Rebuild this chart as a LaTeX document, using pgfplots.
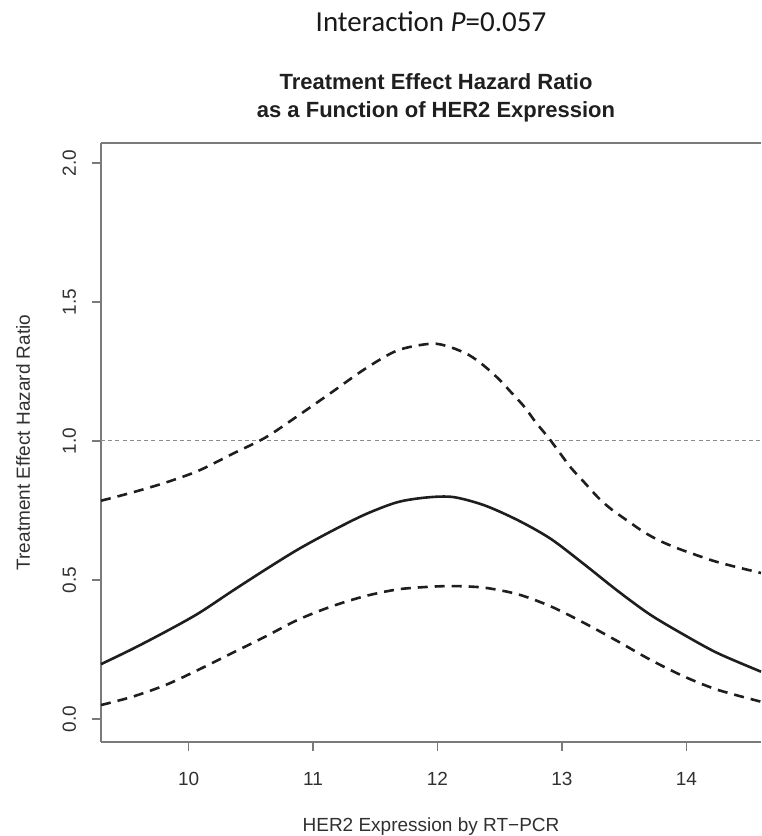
\documentclass[border=0pt]{standalone}
\usepackage{pgfplots}
\pgfplotsset{compat=1.18}
\usepackage{fontspec}
\setmainfont{Liberation Sans}
\newfontfamily\carlito{Carlito}

\definecolor{axisgray}{HTML}{7A7A7A}
\definecolor{labgray}{HTML}{303030}
\definecolor{curve}{HTML}{1E1E1E}
\definecolor{refgray}{HTML}{8C8C8C}

% estimated hazard ratio and lower confidence limit
\pgfplotstableread{
x      hr     lo
9.296  0.197  0.050
9.55   0.252  0.080
9.82   0.315  0.123
10.08  0.380  0.177
10.35  0.460  0.237
10.62  0.538  0.297
10.88  0.610  0.357
11.15  0.676  0.405
11.42  0.736  0.442
11.68  0.780  0.466
11.92  0.797  0.475
12.13  0.798  0.478
12.38  0.768  0.472
12.65  0.714  0.448
12.91  0.648  0.405
13.18  0.556  0.345
13.45  0.460  0.279
13.71  0.375  0.213
13.98  0.303  0.153
14.25  0.237  0.105
14.60  0.170  0.062
}\hrdata

% upper confidence limit
\pgfplotstableread{
x      hi
9.296  0.785
9.55   0.815
9.82   0.851
10.08  0.893
10.35  0.953
10.62  1.013
10.88  1.091
11.15  1.175
11.42  1.260
11.68  1.326
11.95  1.350
12.10  1.338
12.25  1.310
12.37  1.272
12.49  1.224
12.59  1.176
12.70  1.122
12.79  1.067
12.89  1.013
12.98  0.959
13.07  0.905
13.18  0.851
13.29  0.797
13.39  0.757
13.53  0.712
13.66  0.672
13.79  0.640
13.94  0.612
14.09  0.588
14.23  0.567
14.38  0.549
14.60  0.525
}\hidata

\begin{document}
\begin{tikzpicture}
\begin{axis}[
  scale only axis,
  width=330pt, height=299.5pt,
  xmin=9.296, xmax=14.6,
  ymin=-0.083, ymax=2.072,
  clip=false,
  axis x line*=bottom, axis y line*=left,
  axis line style={axisgray, line width=0.6pt},
  tick style={axisgray, line width=0.6pt},
  tick align=outside,
  major tick length=4.5pt,
  xtick={10,11,12,13,14},
  ytick={0,0.5,1,1.5,2},
  font=\fontsize{9.5}{11}\selectfont,
  ticklabel style={labgray, inner sep=0pt},
  /pgf/number format/assume math mode=true,
  % rotated labels: local y points to the left
  yticklabel style={rotate=90, anchor=base, yshift=8pt,
    /pgf/number format/.cd, fixed, fixed zerofill, precision=1},
  xticklabel style={anchor=north, yshift=-10.5pt},
  xlabel={HER2 Expression by RT−PCR},
  ylabel={Treatment Effect Hazard Ratio},
  label style={labgray},
  xlabel style={at={(axis description cs:0.5,0)}, anchor=base, yshift=-44.5pt},
  ylabel style={at={(axis description cs:0,0.5)}, anchor=base, yshift=35.5pt},
]
\addplot[refgray, line width=0.5pt, dash pattern=on 2pt off 1.6pt] coordinates {(9.296,1) (14.6,1)};
\addplot[curve, line width=1.3pt, smooth, tension=0.5] table[x=x, y=hr] {\hrdata};
\addplot[curve, line width=1.3pt, dash pattern=on 5pt off 3.5pt, smooth, tension=0.5] table[x=x, y=lo] {\hrdata};
\addplot[curve, line width=1.3pt, dash pattern=on 5pt off 3.5pt, smooth, tension=0.5] table[x=x, y=hi] {\hidata};

\draw[axisgray, line width=0.6pt] (rel axis cs:0,1) -- (rel axis cs:1,1);

\node[anchor=base, font=\bfseries\fontsize{11}{13}\selectfont, text=black!88]
  at (rel axis cs:0.5076,1) [yshift=26.5pt] {Treatment Effect Hazard Ratio};
\node[anchor=base, font=\bfseries\fontsize{11}{13}\selectfont, text=black!88]
  at (rel axis cs:0.5076,1) [yshift=12.5pt] {as a Function of HER2 Expression};
\node[anchor=base, font=\carlito\fontsize{14.5}{17}\selectfont, text=black!90]
  at (rel axis cs:0.5,1) [yshift=55.5pt] {Interaction \textit{P}=0.057};

\coordinate (sw) at (rel axis cs:0,0);
\coordinate (ne) at (rel axis cs:1,1);
\end{axis}
\pgfresetboundingbox
\path[use as bounding box] ([xshift=-50.5pt,yshift=-47pt]sw) rectangle ([yshift=71.5pt]ne);
\end{tikzpicture}
\end{document}
